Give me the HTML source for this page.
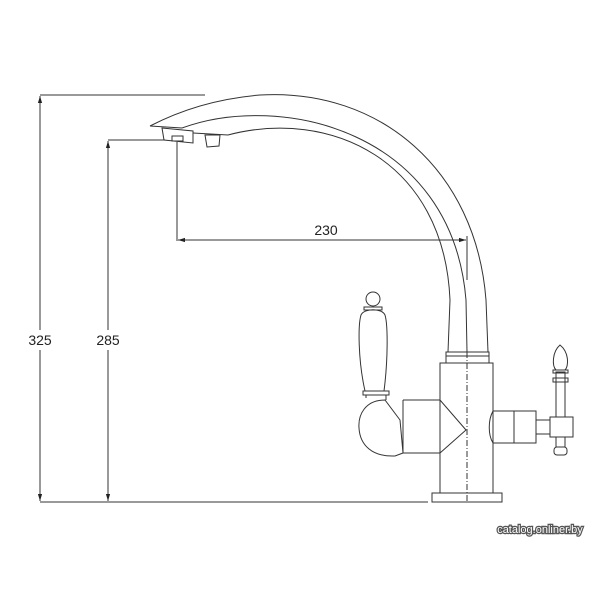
<!DOCTYPE html>
<html><head><style>
html,body{margin:0;padding:0;background:#fff;width:600px;height:600px;overflow:hidden}
svg{display:block}
text{font-family:"Liberation Sans",sans-serif;font-size:14px;fill:#222}
</style></head><body>
<svg width="600" height="600" viewBox="0 0 600 600" xmlns="http://www.w3.org/2000/svg">
<defs>
<marker id="a" viewBox="0 0 10 10" refX="10" refY="5" markerWidth="7" markerHeight="7" orient="auto-start-reverse"><path d="M0,2 L10,5 L0,8z" fill="#222"/></marker>
</defs>
<g fill="none" stroke="#333" stroke-width="1">
<line x1="40" y1="95" x2="205" y2="95"/>
<line x1="40" y1="502" x2="428" y2="502"/>
<line x1="40" y1="96" x2="40" y2="330" marker-start="url(#a)"/>
<line x1="40" y1="350" x2="40" y2="501" marker-end="url(#a)"/>
<line x1="108" y1="140" x2="165" y2="140"/>
<line x1="108" y1="141" x2="108" y2="330" marker-start="url(#a)"/>
<line x1="108" y1="350" x2="108" y2="501" marker-end="url(#a)"/>
<line x1="177" y1="142" x2="177" y2="241"/>
<line x1="467" y1="236" x2="467" y2="280"/>
<line x1="178" y1="240" x2="466" y2="240" marker-start="url(#a)" marker-end="url(#a)"/>
<path d="M150,126 Q200,100 260,95 C380,88 476,170 486,300 L488,352"/>
<path d="M182,128 C280,92 452,130 466,300 L467,352"/>
<path d="M228,135 C330,108 444,160 450,300 L448,352"/>
<path d="M150,126 L182,128"/>
<path d="M193,133 L228,135"/>
<path d="M162,128 L193,131 L193,143 L164,140 Z"/>
<rect x="172" y="136" width="11" height="5"/>
<path d="M205,135 L220,135 L219,146 L207,147 Z"/>
<rect x="446" y="352" width="43" height="4"/>
<rect x="446" y="356" width="43" height="7"/>
<rect x="440" y="363" width="53" height="130"/>
<rect x="432" y="493" width="70" height="9"/>
<line x1="467" y1="352" x2="467" y2="502" stroke-dasharray="6,2,1,2"/>
<path d="M403,400 L440,400 L466,430 L440,453 L403,453"/>
<path d="M403,400 L403,453"/>
<path d="M385,400 C365,400 358,415 359,428 C360,445 372,457 395,456 L403,453 L400,420 Z"/>
<path d="M366,398 L366,395 L386,395 L386,400"/>
<rect x="363" y="391" width="26" height="4"/>
<path d="M365,391 C358,360 358,325 361,315 C364,308 382,308 385,315 C388,325 388,360 384,391"/>
<rect x="364" y="307" width="18" height="3"/>
<circle cx="373" cy="299" r="7"/>
<path d="M493,411 L536,411 L536,443 L493,443 C488,435 488,420 493,411 Z"/>
<line x1="514" y1="411" x2="514" y2="443"/>
<rect x="536" y="420" width="14" height="14"/>
<rect x="550" y="417" width="23" height="20"/>
<rect x="556" y="372" width="9" height="45"/>
<rect x="553" y="378" width="15" height="4"/>
<rect x="553" y="370" width="15" height="3"/>
<path d="M560,345 C552,352 552,366 556,370 L565,370 C569,366 569,352 560,345 Z"/>
<rect x="556" y="437" width="9" height="10"/>
<rect x="554" y="447" width="13" height="8" rx="3"/>
</g>
<g>
<rect x="28" y="331" width="24" height="18" fill="#fff"/>
<rect x="95" y="331" width="26" height="18" fill="#fff"/>
<text x="40" y="345" text-anchor="middle">325</text>
<text x="108" y="345" text-anchor="middle">285</text>
<text x="326" y="235" text-anchor="middle">230</text>
<text x="540" y="533" text-anchor="middle" style="font-size:11px;fill:#fff;stroke:#555;stroke-width:2.5;paint-order:stroke">catalog.onliner.by</text>
</g>
</svg>
</body></html>
